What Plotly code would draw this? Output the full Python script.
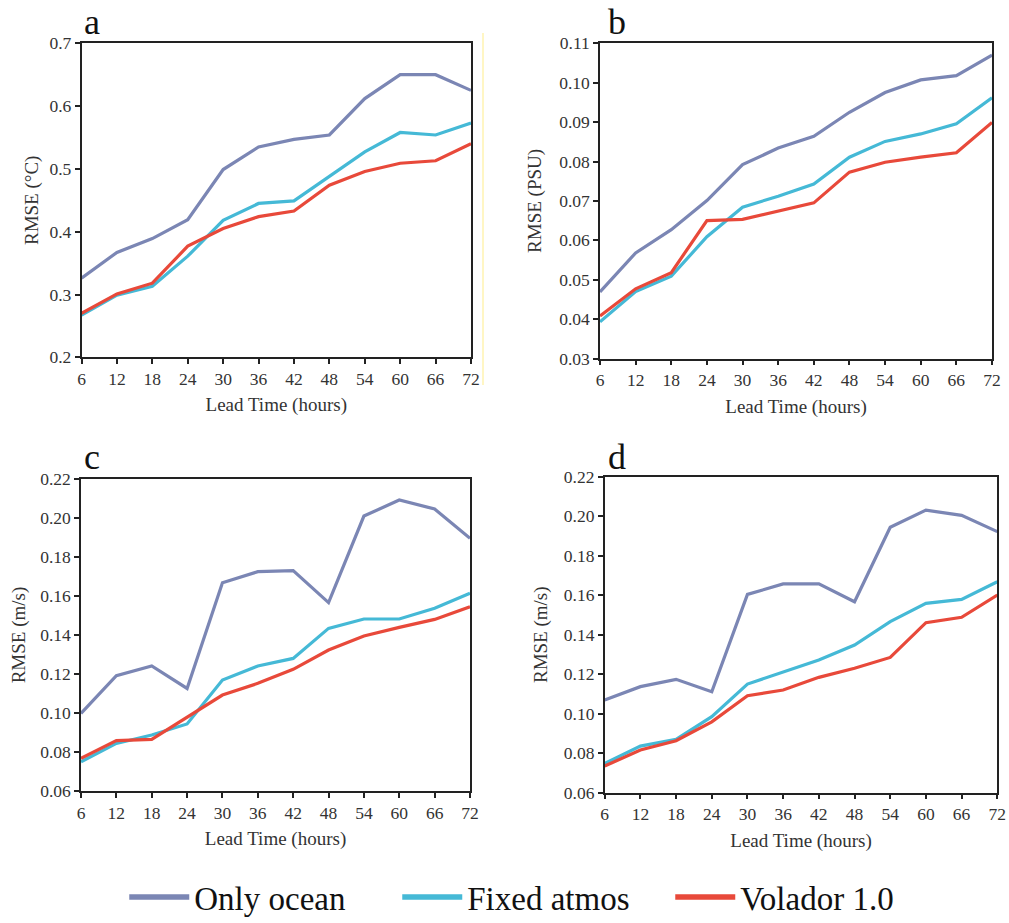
import plotly.graph_objects as go

W, H = 1009, 923

lead_hours = [6, 12, 18, 24, 30, 36, 42, 48, 54, 60, 66, 72]
series_names = ["Only ocean", "Fixed atmos", "Volador 1.0"]
series_colors = ["#7B86B4", "#45B9D6", "#E8493A"]

# Panel a: SST RMSE (°C)
a_only_ocean = [0.326, 0.367, 0.389, 0.419, 0.499, 0.535, 0.547, 0.554, 0.612, 0.650, 0.650, 0.625]
a_fixed_atmos = [0.267, 0.299, 0.313, 0.361, 0.418, 0.445, 0.449, 0.488, 0.527, 0.558, 0.554, 0.573]
a_volador = [0.270, 0.301, 0.318, 0.377, 0.405, 0.424, 0.433, 0.474, 0.496, 0.509, 0.513, 0.540]

# Panel b: SSS RMSE (PSU)
b_only_ocean = [0.0469, 0.0568, 0.0627, 0.0701, 0.0792, 0.0834, 0.0864, 0.0925, 0.0975, 0.1007, 0.1018, 0.1070]
b_fixed_atmos = [0.0393, 0.0470, 0.0509, 0.0609, 0.0684, 0.0712, 0.0743, 0.0811, 0.0851, 0.0870, 0.0896, 0.0962]
b_volador = [0.0408, 0.0477, 0.0518, 0.0650, 0.0653, 0.0674, 0.0695, 0.0773, 0.0798, 0.0811, 0.0822, 0.0899]

# Panel c: current RMSE (m/s)
c_only_ocean = [0.0998, 0.1191, 0.1241, 0.1126, 0.1668, 0.1725, 0.1730, 0.1566, 0.2010, 0.2092, 0.2046, 0.1896]
c_fixed_atmos = [0.0750, 0.0844, 0.0887, 0.0944, 0.1169, 0.1241, 0.1280, 0.1434, 0.1482, 0.1482, 0.1537, 0.1614]
c_volador = [0.0768, 0.0858, 0.0865, 0.0978, 0.1092, 0.1152, 0.1224, 0.1323, 0.1395, 0.1439, 0.1480, 0.1545]

# Panel d: current RMSE (m/s)
d_only_ocean = [0.1069, 0.1137, 0.1174, 0.1111, 0.1604, 0.1657, 0.1657, 0.1567, 0.1944, 0.2031, 0.2004, 0.1922]
d_fixed_atmos = [0.0748, 0.0836, 0.0870, 0.0985, 0.1150, 0.1213, 0.1272, 0.1348, 0.1466, 0.1559, 0.1579, 0.1668]
d_volador = [0.0735, 0.0816, 0.0863, 0.0959, 0.1091, 0.1120, 0.1184, 0.1230, 0.1285, 0.1461, 0.1488, 0.1601]

panel_letters = ["a", "b", "c", "d"]
y_titles = ["RMSE (°C)", "RMSE (PSU)", "RMSE (m/s)", "RMSE (m/s)"]
y_ticks_a = [0.2, 0.3, 0.4, 0.5, 0.6, 0.7]
y_ticks_b = [0.03, 0.04, 0.05, 0.06, 0.07, 0.08, 0.09, 0.10, 0.11]
y_ticks_cd = [0.06, 0.08, 0.10, 0.12, 0.14, 0.16, 0.18, 0.20, 0.22]
x_title = "Lead Time (hours)"

panels = [
    ([a_only_ocean, a_fixed_atmos, a_volador], y_ticks_a, ".1f"),
    ([b_only_ocean, b_fixed_atmos, b_volador], y_ticks_b, ".2f"),
    ([c_only_ocean, c_fixed_atmos, c_volador], y_ticks_cd, ".2f"),
    ([d_only_ocean, d_fixed_atmos, d_volador], y_ticks_cd, ".2f"),
]

# plot-area boxes in pixels (left, right, top, bottom)
boxes = [
    (81.5, 471.0, 43.3, 357.3),
    (600.0, 992.0, 43.3, 358.5),
    (81.0, 470.0, 479.0, 791.0),
    (604.7, 997.3, 476.7, 792.7),
]
y_title_standoff = [6, 12, 9, 11]
# letter x centre, text-box top
letter_pos = [(92, 0), (617, 0), (92, 435), (617, 435)]

FONT = "Liberation Serif, Times New Roman, serif"
TXT = "#333333"
fig = go.Figure()
layout = dict(
    width=W, height=H,
    margin=dict(l=0, r=0, t=0, b=0, autoexpand=False),
    paper_bgcolor="white", plot_bgcolor="white",
    font=dict(family=FONT, color=TXT, size=17),
    showlegend=True,
)
annotations = []
for i, ((vals, yt, fmt), (l, r, t, b)) in enumerate(zip(panels, boxes)):
    xa = "xaxis" if i == 0 else f"xaxis{i+1}"
    ya = "yaxis" if i == 0 else f"yaxis{i+1}"
    xref = "x" if i == 0 else f"x{i+1}"
    yref = "y" if i == 0 else f"y{i+1}"
    for j, (name, col) in enumerate(zip(series_names, series_colors)):
        fig.add_trace(go.Scatter(
            x=lead_hours, y=vals[j], mode="lines", name=name,
            line=dict(color=col, width=3.2),
            xaxis=xref, yaxis=yref,
            showlegend=False, legendgroup=name,
        ))
    axis_common = dict(showline=True, linecolor="#222222", linewidth=1.5, mirror=True,
                       ticks="outside", ticklen=5, tickwidth=1.5, tickcolor="#222222",
                       showgrid=False, zeroline=False,
                       tickfont=dict(family=FONT, size=17.5, color=TXT))
    layout[xa] = dict(domain=[l / W, r / W], anchor=yref, range=[6, 72],
                      tickvals=lead_hours, ticktext=[str(v) for v in lead_hours],
                      title=dict(text=x_title, font=dict(family=FONT, size=19, color=TXT), standoff=10),
                      **axis_common)
    layout[ya] = dict(domain=[1 - b / H, 1 - t / H], anchor=xref, range=[yt[0], yt[-1]],
                      tickvals=yt, tickformat=fmt,
                      title=dict(text=y_titles[i], font=dict(family=FONT, size=19, color=TXT),
                                 standoff=y_title_standoff[i]),
                      **axis_common)
    lx, ly = letter_pos[i]
    annotations.append(dict(text=panel_letters[i], x=lx / W, y=1 - ly / H, xref="paper", yref="paper",
                            showarrow=False, xanchor="center", yanchor="top",
                            font=dict(family=FONT, size=36, color="#111111")))

# legend entries (thicker key lines, as in the reference legend)
for name, col in zip(series_names, series_colors):
    fig.add_trace(go.Scatter(x=[None], y=[None], mode="lines", name=name,
                             line=dict(color=col, width=5.5), legendgroup=name, showlegend=True))

layout["annotations"] = annotations
layout["shapes"] = [dict(type="line", xref="paper", yref="paper", x0=483 / W, x1=483 / W,
                         y0=1 - 385 / H, y1=1 - 33 / H, line=dict(color="#FFF3B0", width=1.5))]
layout["legend"] = dict(orientation="h", x=0.529, xanchor="center", y=1 - 897 / H, yanchor="middle",
                        font=dict(family=FONT, size=33, color="#111111"),
                        entrywidth=198, entrywidthmode="pixels", itemwidth=60,
                        bgcolor="rgba(0,0,0,0)")
fig.update_layout(**layout)
fig.write_html("out.html", config={"displayModeBar": False},
               post_script="document.body.style.margin='0';")
